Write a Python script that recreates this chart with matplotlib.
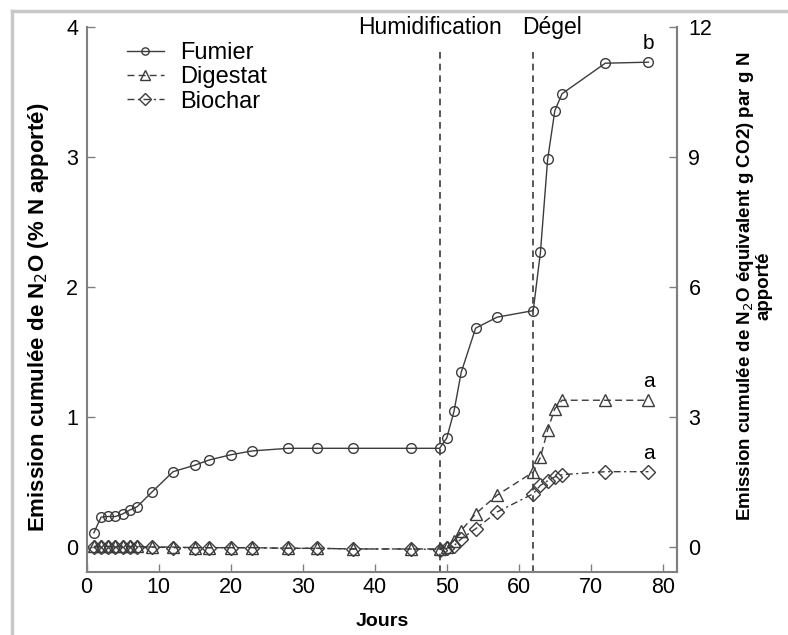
import matplotlib
matplotlib.use("Agg")
import matplotlib.pyplot as plt
from matplotlib.lines import Line2D

plt.rcParams['font.family'] = ['Liberation Sans', 'DejaVu Sans']

# jours de mesure
jours = [1, 2, 3, 4, 5, 6, 7, 9, 12, 15, 17, 20, 23, 28, 32, 37, 45, 49,
         50, 51, 52, 54, 57, 62, 63, 64, 65, 66, 72, 78]

# emission cumulee (% N apporte)
fumier = [0.11, 0.23, 0.235, 0.235, 0.255, 0.285, 0.31, 0.42, 0.58, 0.63, 0.67,
          0.71, 0.74, 0.76, 0.76, 0.76, 0.76, 0.76,
          0.84, 1.045, 1.345, 1.685, 1.77, 1.82, 2.27, 2.985, 3.36, 3.49, 3.725, 3.733]
digestat = [0.005, 0.005, 0.005, 0.005, 0.005, 0.005, 0.005, 0.0, 0.0, -0.005, -0.005,
            -0.005, -0.005, -0.01, -0.01, -0.015, -0.015, -0.015,
            0.0, 0.05, 0.127, 0.256, 0.40, 0.577, 0.69, 0.90, 1.065, 1.13, 1.13, 1.13]
biochar = [0.0, 0.0, 0.0, 0.0, 0.0, 0.0, 0.0, 0.0, -0.005, -0.005, -0.005,
           -0.005, -0.005, -0.01, -0.01, -0.015, -0.015, -0.02,
           -0.01, 0.01, 0.063, 0.14, 0.27, 0.41, 0.475, 0.51, 0.54, 0.557, 0.58, 0.58]

lettres = ['b', 'a', 'a']
evenements = ['Humidification', 'Dégel']
jours_evenements = [49, 62]

fig = plt.figure(figsize=(7.88, 6.35), dpi=100)
ax = fig.add_axes([0.110, 0.0997, 0.7495, 0.8570])

c = '#3c3c3c'
spine_c = '#808080'

ax.plot(jours, fumier, '-', color=c, lw=1, marker='o', ms=7, mfc='none', mec=c, mew=1, label='Fumier')
ax.plot(jours, digestat, '--', color=c, lw=1, marker='^', ms=9, mfc='none', mec=c, mew=1,
        dashes=(5, 3), label='Digestat')
ax.plot(jours, biochar, '-.', color=c, lw=1, marker='D', ms=7.5, mfc='none', mec=c, mew=1,
        dashes=(5, 2.5, 1.5, 2.5), label='Biochar')

ymin = -0.19
for j in jours_evenements:
    ax.plot([j, j], [ymin, 3.83], ls='--', color=c, lw=1.2, dashes=(4, 3))

ax.text(47.7, 4.0, evenements[0], ha='center', va='center', fontsize=16.5, clip_on=False)
ax.text(64.6, 4.0, evenements[1], ha='center', va='center', fontsize=16.5, clip_on=False)

for serie, l in zip([fumier, digestat, biochar], lettres):
    ax.text(jours[-1], serie[-1] + 0.07, l, ha='center', va='bottom', fontsize=15)

ax.set_xlim(0, 82)
ax.set_ylim(ymin, 4)
ax.set_xticks(range(0, 81, 10))
ax.set_yticks([0, 1, 2, 3, 4])
ax.tick_params(direction='in', length=6, width=1, colors=spine_c, labelcolor='black', labelsize=15.5)
ax.tick_params(axis='y', pad=6)
ax.spines['top'].set_visible(False)
for s in ['left', 'right', 'bottom']:
    ax.spines[s].set_color(spine_c)
    ax.spines[s].set_linewidth(1.5)
ax.spines['left'].set_bounds(ymin, 4)

ax.set_xlabel('Jours', fontsize=14, fontweight='bold')
ax.xaxis.set_label_coords(0.5, -0.075)
ax.set_ylabel('Emission cumulée de N$_2$O (% N apporté)', fontsize=16, fontweight='bold')
ax.yaxis.set_label_coords(-0.06, 0.468)

ax2 = ax.twinx()
ax2.set_ylim(ymin * 3, 12)
ax2.set_yticks([0, 3, 6, 9, 12])
ax2.tick_params(direction='in', length=6, width=1, colors=spine_c, labelcolor='black', labelsize=15.5, pad=8)
ax2.spines['top'].set_visible(False)
ax2.spines['right'].set_color(spine_c)
ax2.spines['right'].set_linewidth(1.5)
ax2.spines['left'].set_visible(False)
ax2.spines['bottom'].set_visible(False)
ax2.set_ylabel('Emission cumulée de N$_2$O équivalent g CO2) par g N\napporté',
               fontsize=13.5, fontweight='bold', multialignment='center', linespacing=1.0)
ax2.yaxis.set_label_coords(1.097, 0.525)

leg = ax.legend(loc='upper left', bbox_to_anchor=(127 / 788, 1 - 42 / 635),
                bbox_transform=fig.transFigure, frameon=False, fontsize=17,
                handlelength=1.55, handletextpad=0.7, labelspacing=0.1,
                borderpad=0, borderaxespad=0, markerscale=0.75)

# cadre gris clair autour de la figure
fig.add_artist(Line2D([12 / 788, 12 / 788], [0, 1 - 11 / 635], color='#c8c8c8', lw=2.5,
                      transform=fig.transFigure))
fig.add_artist(Line2D([12 / 788, 1], [1 - 11 / 635, 1 - 11 / 635], color='#c8c8c8', lw=2.5,
                      transform=fig.transFigure))

fig.savefig('out.png', dpi=100)
